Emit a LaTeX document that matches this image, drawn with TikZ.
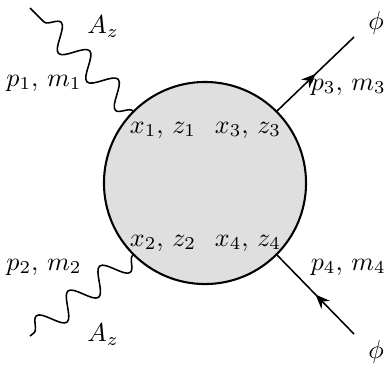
\documentclass[tikz,border=0pt]{standalone}
\usepackage{amsmath, amssymb}
\usepackage{xcolor}
\usetikzlibrary{positioning, arrows.meta, decorations.pathmorphing, decorations.markings}

\begin{document}
\begin{tikzpicture}[x=0.385pt, y=-0.385pt, >=Stealth,
    photon/.style={semithick, decorate,
      decoration={snake, segment length=15.5pt, amplitude=4.6pt}},
    scalar/.style={semithick, postaction={decorate},
      decoration={markings, mark=at position 0.5 with {\arrow{Stealth[length=5.5pt, width=4.5pt]}}}},
    blobstyle/.style={circle, draw, thick, fill=gray!25, minimum size=77.8pt, inner sep=0pt}]
    \useasboundingbox (0,0) rectangle (389,368);

    \node[blobstyle] (blob) at (205,183) {};

    % external legs
    \coordinate (e1) at (30,8);
    \coordinate (e2) at (30,336);
    \coordinate (e3) at (354,37);
    \coordinate (e4) at (354,334);

    \draw[photon] (blob.135) -- (e1);
    \draw[photon] (blob.225) -- (e2);
    \draw[scalar] (blob.45) -- (e3);
    \draw[scalar] (e4) -- (blob.-45);

    % vertex labels
    \node (v1) at (163,130) {$x_1,\, z_1$};
    \node (v3) at (248,130) {$x_3,\, z_3$};
    \node (v2) at (163,243) {$x_2,\, z_2$};
    \node (v4) at (248,243) {$x_4,\, z_4$};

    % leg labels
    \node (a1) at (103,27) {$A_z$};
    \node (k1) at (44,83) {$p_1,\, m_1$};
    \node (a2) at (103,335) {$A_z$};
    \node (k2) at (44,267) {$p_2,\, m_2$};
    \node (f3) at (376,23) {$\phi$};
    \node[anchor=east, inner xsep=1pt] (k3) at (389,87) {$p_3,\, m_3$};
    \node (f4) at (376,352) {$\phi$};
    \node[anchor=east, inner xsep=1pt] (k4) at (389,267) {$p_4,\, m_4$};
\end{tikzpicture}
\end{document}
